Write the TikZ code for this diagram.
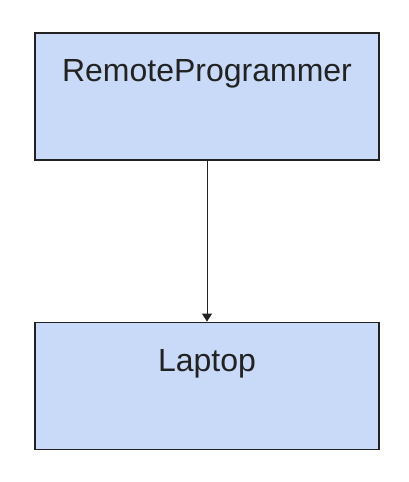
\documentclass[tikz,border=0pt]{standalone}
\usepackage{fontspec}
\setmainfont{Liberation Sans}
\usetikzlibrary{positioning,arrows.meta}

\definecolor{boxblue}{HTML}{C9DAF8}
\definecolor{linegray}{HTML}{222222}

\tikzset{
  block/.style={rectangle, draw=linegray, line width=1.2pt, fill=boxblue,
    inner sep=0pt, text width=344pt, align=center, text=linegray,
    text height=49pt, text depth=78pt, font=\fontsize{32}{38}\selectfont}
}

\begin{document}
\begin{tikzpicture}[node distance=161pt]
\useasboundingbox (0,0) rectangle (408pt,482pt);
\node (remote) [block] at (207pt,385.5pt) {RemoteProgrammer};
\node (laptop) [block, below=of remote] {Laptop};
\draw[-{Triangle[length=8pt,width=10pt]}, line width=1pt, draw=linegray] (remote) -- (laptop);
\end{tikzpicture}
\end{document}
